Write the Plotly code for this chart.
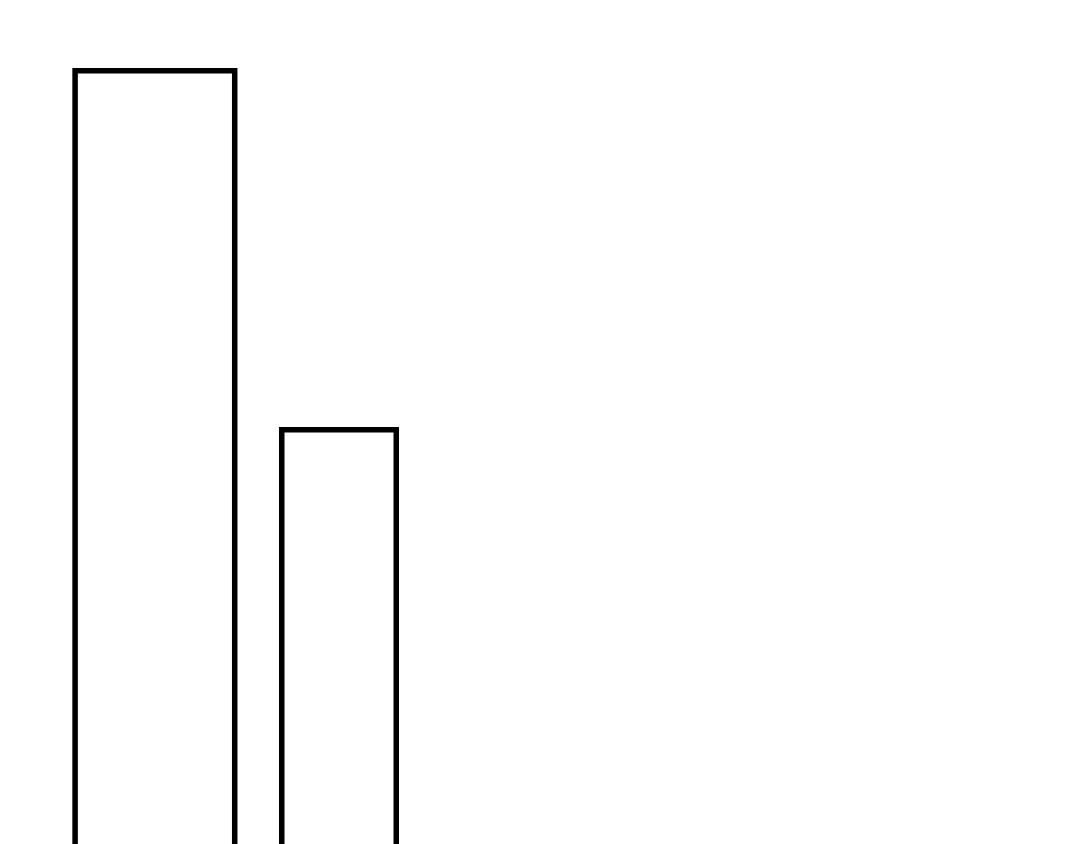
import plotly.graph_objects as go

# two outlined bars, no labels or axes visible
positions = [1, 2]
values = [100, 70]

fig = go.Figure()
fig.add_trace(go.Bar(
    x=positions,
    y=values,
    width=[0.867, 0.622],
    marker=dict(color="white", line=dict(color="black", width=5.5)),
    showlegend=False,
    hoverinfo="skip",
))

fig.update_layout(
    template="plotly_white",
    paper_bgcolor="white",
    plot_bgcolor="white",
    margin=dict(l=0, r=0, t=0, b=0),
    xaxis=dict(range=[0.1586, 6.025], visible=False, showgrid=False),
    yaxis=dict(range=[35.4, 105.9], visible=False, showgrid=False),
)

# drop the page margin so the plot fills the whole window
fix_margin = ("document.body.style.margin='0';"
              "Plotly.Plots.resize(document.getElementById('{plot_id}'));")

fig.write_html("out.html", post_script=fix_margin,
               config={"displayModeBar": False})
